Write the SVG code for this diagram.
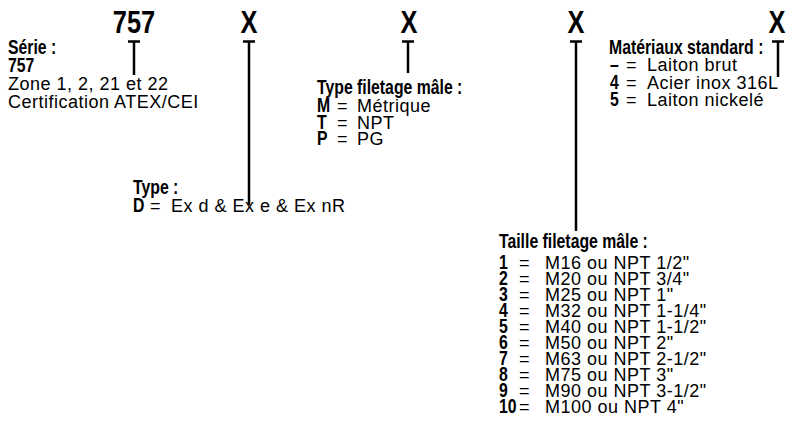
<svg xmlns="http://www.w3.org/2000/svg" width="789" height="421" viewBox="0 0 789 421">
<style>
.h{font-family:"Liberation Sans",Arial,sans-serif;font-weight:bold;font-size:31px;fill:#000;text-anchor:middle;transform-box:fill-box;transform-origin:50% 50%;transform:scaleX(.82)}
.b{font-family:"Liberation Sans",Arial,sans-serif;font-weight:bold;font-size:19.5px;fill:#000;transform-box:fill-box;transform-origin:0 0;transform:scaleX(.81)}
.r{font-family:"Liberation Sans",Arial,sans-serif;font-size:18px;letter-spacing:0.5px;fill:#000}
.ln{stroke:#000;stroke-width:2.5;fill:none}
</style>
<rect width="789" height="421" fill="#fff"/>
<g id="header">
<text class="h" x="134" y="33">757</text>
<text class="h" x="249" y="33">X</text>
<text class="h" x="409" y="33">X</text>
<text class="h" x="576" y="33">X</text>
<text class="h" x="777" y="33">X</text>
</g>
<g id="connectors">
<path class="ln" d="M128 41.5H140M134 41.5V75"/>
<path class="ln" d="M243 41.5H255M249 41.5V205"/>
<path class="ln" d="M402 41.5H414M408 41.5V73"/>
<path class="ln" d="M570 41.5H582M576 41.5V231"/>
<path class="ln" d="M772 41.5H784M778 41.5V77"/>
</g>
<g id="serie">
<text class="b" x="8" y="54">Série :</text>
<text class="b" x="8" y="72">757</text>
<text class="r" x="8" y="90">Zone 1, 2, 21 et 22</text>
<text class="r" x="8" y="108">Certification ATEX/CEI</text>
</g>
<g id="type">
<text class="b" x="133" y="194">Type :</text>
<text class="b" x="133" y="212">D</text>
<text class="r" x="150" y="212">=</text>
<text class="r" x="171" y="212">Ex d &amp; Ex e &amp; Ex nR</text>
</g>
<g id="type-filetage">
<text class="b" x="317" y="94">Type filetage mâle :</text>
<text class="b" x="317" y="112">M</text><text class="r" x="337" y="112">=</text><text class="r" x="357" y="112">Métrique</text>
<text class="b" x="317" y="129">T</text><text class="r" x="337" y="129">=</text><text class="r" x="357" y="129">NPT</text>
<text class="b" x="317" y="145">P</text><text class="r" x="337" y="145">=</text><text class="r" x="357" y="145">PG</text>
</g>
<g id="materiaux">
<text class="b" x="609" y="54">Matériaux standard :</text>
<text class="b" x="610" y="71">–</text><text class="r" x="626" y="71">=</text><text class="r" x="647" y="71">Laiton brut</text>
<text class="b" x="610" y="89">4</text><text class="r" x="626" y="89">=</text><text class="r" x="647" y="89">Acier inox 316L</text>
<text class="b" x="610" y="106">5</text><text class="r" x="626" y="106">=</text><text class="r" x="647" y="106">Laiton nickelé</text>
</g>
<g id="taille">
<text class="b" x="499" y="248">Taille filetage mâle :</text>
<text class="b" x="499" y="269">1</text><text class="r" x="519" y="269">=</text><text class="r" x="545" y="269">M16 ou NPT 1/2"</text>
<text class="b" x="499" y="285">2</text><text class="r" x="519" y="285">=</text><text class="r" x="545" y="285">M20 ou NPT 3/4"</text>
<text class="b" x="499" y="301">3</text><text class="r" x="519" y="301">=</text><text class="r" x="545" y="301">M25 ou NPT 1"</text>
<text class="b" x="499" y="317">4</text><text class="r" x="519" y="317">=</text><text class="r" x="545" y="317">M32 ou NPT 1-1/4"</text>
<text class="b" x="499" y="333">5</text><text class="r" x="519" y="333">=</text><text class="r" x="545" y="333">M40 ou NPT 1-1/2"</text>
<text class="b" x="499" y="349">6</text><text class="r" x="519" y="349">=</text><text class="r" x="545" y="349">M50 ou NPT 2"</text>
<text class="b" x="499" y="365">7</text><text class="r" x="519" y="365">=</text><text class="r" x="545" y="365">M63 ou NPT 2-1/2"</text>
<text class="b" x="499" y="381">8</text><text class="r" x="519" y="381">=</text><text class="r" x="545" y="381">M75 ou NPT 3"</text>
<text class="b" x="499" y="397">9</text><text class="r" x="519" y="397">=</text><text class="r" x="545" y="397">M90 ou NPT 3-1/2"</text>
<text class="b" x="499" y="413">10</text><text class="r" x="519" y="413">=</text><text class="r" x="545" y="413">M100 ou NPT 4"</text>
</g>
</svg>
